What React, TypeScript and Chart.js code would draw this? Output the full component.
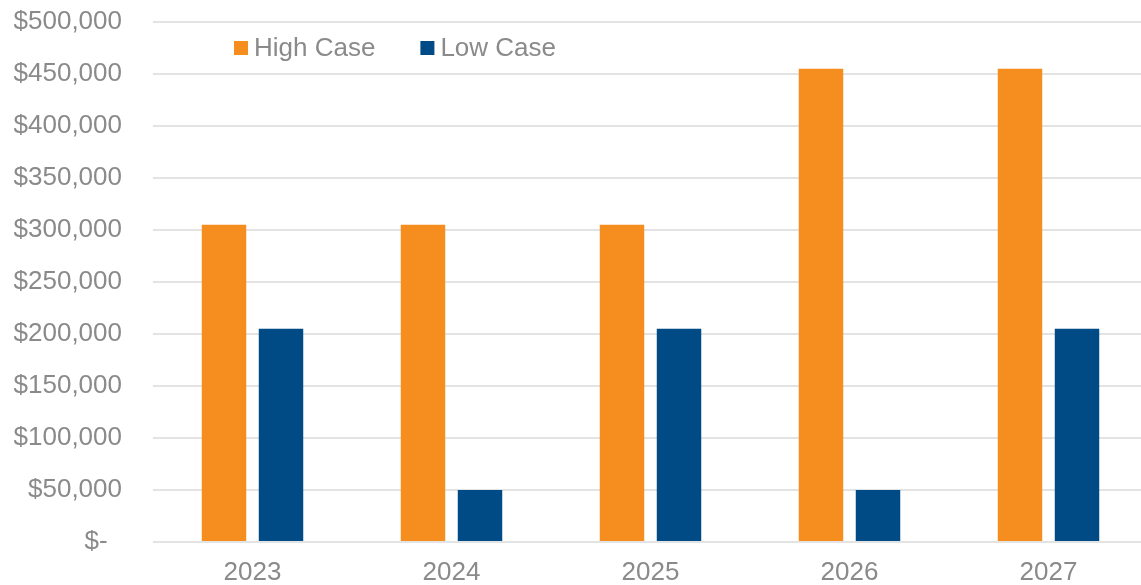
import React, { useEffect, useRef } from "react";
import { Chart, registerables } from "chart.js";

Chart.register(...registerables);

const categories = ["2023", "2024", "2025", "2026", "2027"];
const highCase = [305000, 305000, 305000, 455000, 455000];
const lowCase = [205000, 50000, 205000, 50000, 205000];
const seriesNames = ["High Case", "Low Case"];
const seriesColors = ["#F68D1F", "#004A86"];
const yMin = 0;
const yMax = 500000;
const yStep = 50000;

const FONT = "'Liberation Sans', Arial, sans-serif";
const TEXT = "#8a8a8a";

const formatTick = (v: number) => (v === 0 ? "$-  " : "$" + v.toLocaleString("en-US"));

const insideLegend = {
  id: "insideLegend",
  afterDraw(chart: any) {
    const { ctx, chartArea } = chart;
    ctx.save();
    ctx.font = `26px ${FONT}`;
    ctx.textBaseline = "middle";
    ctx.textAlign = "left";
    let x = chartArea.left + 81;
    const y = chartArea.top + 26;
    chart.data.datasets.forEach((ds: any) => {
      ctx.fillStyle = ds.backgroundColor;
      ctx.fillRect(x, y - 7, 14, 14);
      ctx.fillStyle = TEXT;
      ctx.fillText(ds.label, x + 20, y + 1);
      x += 20 + ctx.measureText(ds.label).width + 45;
    });
    ctx.restore();
  },
};

export default function App() {
  const ref = useRef<HTMLCanvasElement | null>(null);
  useEffect(() => {
    if (!ref.current) return;
    const chart = new Chart(ref.current, {
      type: "bar",
      data: {
        labels: categories,
        datasets: [
          { label: seriesNames[0], data: highCase, backgroundColor: seriesColors[0] },
          { label: seriesNames[1], data: lowCase, backgroundColor: seriesColors[1] },
        ],
      },
      options: {
        responsive: false,
        animation: false,
        datasets: { bar: { categoryPercentage: 0.573, barPercentage: 0.78 } },
        layout: { padding: { top: 22, right: 0, bottom: 0, left: 0 } },
        plugins: { legend: { display: false }, tooltip: { enabled: false } },
        scales: {
          x: {
            grid: { display: false, drawTicks: false },
            border: { display: false },
            ticks: { color: TEXT, font: { family: FONT, size: 26 }, padding: 15, maxRotation: 0 },
            afterFit: (s: any) => { s.height = 43; },
          },
          y: {
            min: yMin,
            max: yMax,
            grid: { color: "#e3e3e3", lineWidth: 2, drawTicks: false },
            border: { display: false },
            ticks: {
              stepSize: yStep,
              color: TEXT,
              font: { family: FONT, size: 26 },
              padding: 31,
              callback: (v: any) => formatTick(Number(v)),
            },
            afterFit: (s: any) => {
              s.width = 153;
              s.paddingTop = 0;
              s.paddingBottom = 0;
            },
          },
        },
      },
      plugins: [insideLegend],
    });
    return () => chart.destroy();
  }, []);
  return (
    <div style={{ position: "fixed", left: 0, top: 0, width: 1141, height: 585, overflow: "hidden", background: "#fff" }}>
      <canvas ref={ref} width={1148} height={585} style={{ display: "block", width: 1148, height: 585 }} />
    </div>
  );
}
